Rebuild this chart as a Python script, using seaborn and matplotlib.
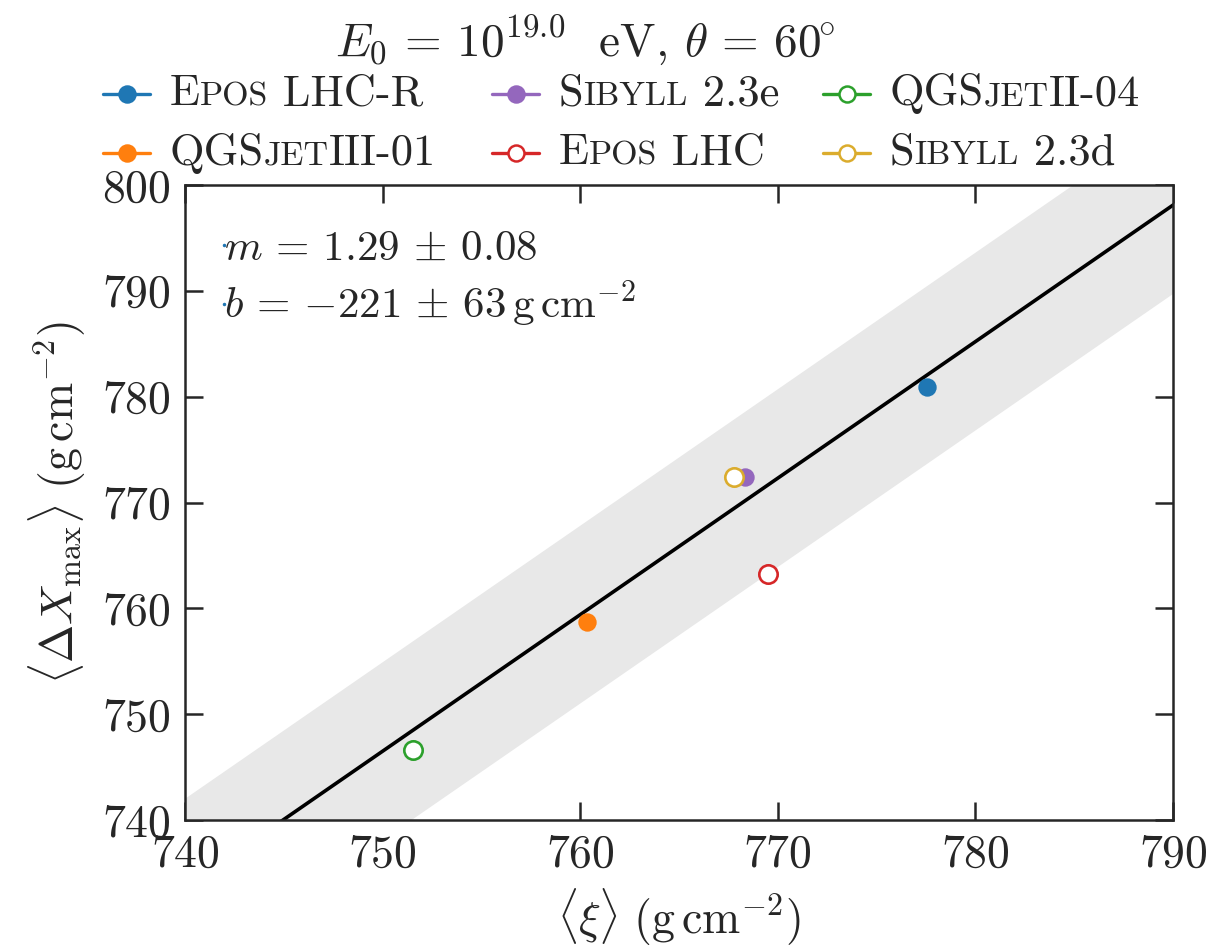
import numpy as np
import pandas as pd
import seaborn as sns
import matplotlib
matplotlib.use("Agg")
import matplotlib.pyplot as plt
from matplotlib.lines import Line2D
from matplotlib.offsetbox import DrawingArea, TextArea, HPacker, AnchoredOffsetbox

# --- data -----------------------------------------------------------------
models = ["Epos LHC-R", "QGSjetIII-01", "Sibyll 2.3e",
          "Epos LHC", "QGSjetII-04", "Sibyll 2.3d"]
xi_mean = [777.55, 760.35, 768.35, 769.5, 751.55, 767.8]      # <xi>  (g cm^-2)
dxmax_mean = [780.9, 758.7, 772.4, 763.2, 746.6, 772.4]       # <dXmax> (g cm^-2)
filled = [True, True, True, False, False, False]
colors = ["#1f77b4", "#ff7f0e", "#9467bd", "#d62728", "#2ca02c", "#dbac2d"]

# legend labels split into (text, small-caps) pieces
label_parts = {
    "Epos LHC-R":   [("E", False), ("POS", True), (" LHC-R", False)],
    "QGSjetIII-01": [("QGS", False), ("JET", True), ("III-01", False)],
    "Sibyll 2.3e":  [("S", False), ("IBYLL", True), (" 2.3e", False)],
    "Epos LHC":     [("E", False), ("POS", True), (" LHC", False)],
    "QGSjetII-04":  [("QGS", False), ("JET", True), ("II-04", False)],
    "Sibyll 2.3d":  [("S", False), ("IBYLL", True), (" 2.3d", False)],
}

slope, slope_err = 1.29, 0.08
intercept, intercept_err = -221, 63
band_halfwidth = 8.4

x_ticks = [740, 750, 760, 770, 780, 790]
y_ticks = [740, 750, 760, 770, 780, 790, 800]

df = pd.DataFrame({"model": models, "xi": xi_mean, "dxmax": dxmax_mean,
                   "filled": filled, "color": colors})

# --- style ----------------------------------------------------------------
sns.set_theme(style="ticks")
plt.rcParams["font.family"] = ["cmr10"]
plt.rcParams["mathtext.fontset"] = "cm"
plt.rcParams["axes.unicode_minus"] = False
plt.rcParams["axes.formatter.use_mathtext"] = True

fig = plt.figure(figsize=(12.1, 9.51), dpi=100)
ax = fig.add_axes([185 / 1210, 1 - 820 / 951, (1173 - 185) / 1210, (820 - 185) / 951])

# fit line with its band
xs = np.linspace(730, 800, 200)
ys = slope * xs + intercept
ax.fill_between(xs, ys - band_halfwidth, ys + band_halfwidth,
                color="#e8e8e8", lw=0, zorder=1)
sns.lineplot(x=xs, y=ys, color="black", lw=2.6, ax=ax, zorder=2)

# model points
for _, r in df.iterrows():
    sns.scatterplot(x=[r.xi], y=[r.dxmax], ax=ax, s=175, zorder=3,
                    color=r.color if r.filled else "white",
                    edgecolor=r.color, linewidth=0 if r.filled else 1.9,
                    marker="o", legend=False)

ax.set_xlim(740, 790)
ax.set_ylim(740, 800)
ax.set_xticks(x_ticks)
ax.set_yticks(y_ticks)
ax.tick_params(direction="in", length=13, width=1.8, top=True, right=True,
               labelsize=33, pad=10)
for s in ax.spines.values():
    s.set_linewidth(1.8)

ax.set_xlabel(r"$\langle \xi \rangle\ (\mathrm{g\,cm^{-2}})$", fontsize=33, labelpad=8)
ax.set_ylabel(r"$\langle \Delta X_\mathrm{max} \rangle\ (\mathrm{g\,cm^{-2}})$",
              fontsize=33, labelpad=10)

# fit parameters
fit_handles = [Line2D([], [], ls="", marker="o", ms=1.5, color=colors[0])] * 2
fit_labels = [rf"$m \,=\, {slope:.2f} \,\pm\, {slope_err:.2f}$",
              rf"$b \,=\, {{{intercept}}} \,\pm\, {intercept_err}\,\mathrm{{g\,cm^{{-2}}}}$"]
ax.legend(fit_handles, fit_labels, loc="upper left", frameon=False,
          handlelength=0, handletextpad=0.0, fontsize=31,
          labelspacing=0.25, bbox_to_anchor=(0.0, 0.99))

# title
fig.text(0.484, 1 - 40 / 951,
         r"$E_0 \,=\, 10^{19.0}$  eV, $\theta \,=\, 60^{\!\!\circ}$",
         ha="center", va="center", fontsize=34)

# model legend with small-caps labels
big, small = 32, 24.5
def entry(name, color, is_filled):
    da = DrawingArea(34, 20, 0, 0)
    da.add_artist(Line2D([0, 34], [10, 10], color=color, lw=2.4))
    da.add_artist(Line2D([17], [10], marker="o", ms=11.5,
                         mfc=color if is_filled else "white",
                         mec=color, mew=1.8))
    pieces = [TextArea(t, textprops=dict(fontsize=small if sc else big,
                                         family="cmr10"))
              for t, sc in label_parts[name]]
    label = HPacker(children=pieces, align="baseline", pad=0, sep=0)
    return HPacker(children=[da, label], align="center", pad=0, sep=14)

col_x = [103, 492, 823]
row_y = [94, 153]
order = ["Epos LHC-R", "Sibyll 2.3e", "QGSjetII-04",
         "QGSjetIII-01", "Epos LHC", "Sibyll 2.3d"]
for k, name in enumerate(order):
    i = models.index(name)
    box = AnchoredOffsetbox(loc="center left", child=entry(name, colors[i], filled[i]),
                            pad=0, borderpad=0, frameon=False,
                            bbox_to_anchor=(col_x[k % 3] / 1210, 1 - row_y[k // 3] / 951),
                            bbox_transform=fig.transFigure)
    fig.add_artist(box)

fig.savefig("out.png", dpi=100)
